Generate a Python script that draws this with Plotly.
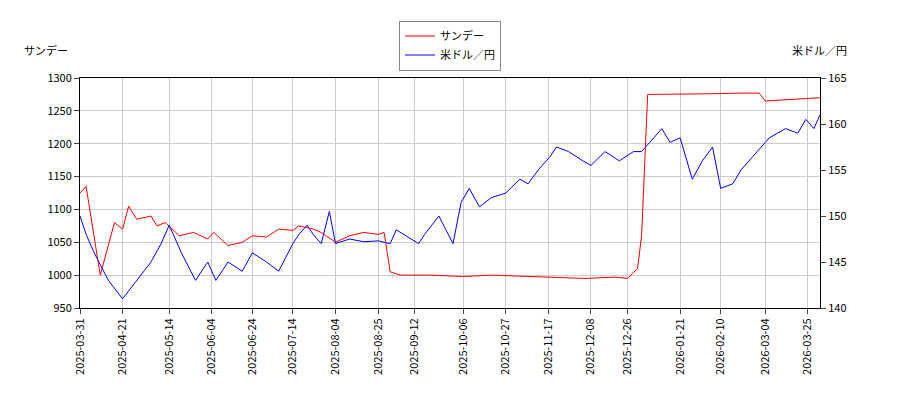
import plotly.graph_objects as go

red_dates = ["2025-03-31","2025-04-03","2025-04-10","2025-04-17","2025-04-21","2025-04-24","2025-04-28","2025-05-05","2025-05-08","2025-05-12","2025-05-19","2025-05-26","2025-06-02","2025-06-05","2025-06-12","2025-06-19","2025-06-24","2025-07-01","2025-07-07","2025-07-14","2025-07-17","2025-07-24","2025-07-28","2025-08-04","2025-08-11","2025-08-18","2025-08-25","2025-08-28","2025-08-31","2025-09-05","2025-09-20","2025-10-06","2025-10-20","2025-11-05","2025-11-20","2025-12-05","2025-12-20","2025-12-26","2025-12-31","2026-01-02","2026-01-05","2026-01-20","2026-02-05","2026-02-20","2026-03-01","2026-03-04","2026-03-15","2026-03-31"]
red_vals = [1125,1135,1000,1080,1070,1105,1085,1090,1075,1080,1060,1065,1055,1065,1045,1050,1060,1058,1070,1068,1075,1070,1065,1050,1060,1065,1062,1065,1005,1000,1000,998,1000,998,996,995,997,995,1010,1060,1275,1275,1276,1277,1277,1265,1267,1270]

blue_dates = ["2025-03-31","2025-04-03","2025-04-07","2025-04-14","2025-04-21","2025-04-28","2025-05-05","2025-05-10","2025-05-14","2025-05-20","2025-05-27","2025-06-02","2025-06-06","2025-06-12","2025-06-19","2025-06-24","2025-07-01","2025-07-07","2025-07-14","2025-07-17","2025-07-21","2025-07-24","2025-07-28","2025-08-01","2025-08-04","2025-08-11","2025-08-18","2025-08-25","2025-08-31","2025-09-03","2025-09-10","2025-09-14","2025-09-17","2025-09-24","2025-10-01","2025-10-05","2025-10-09","2025-10-14","2025-10-20","2025-10-27","2025-11-03","2025-11-07","2025-11-12","2025-11-18","2025-11-21","2025-11-27","2025-12-04","2025-12-08","2025-12-15","2025-12-22","2025-12-29","2026-01-02","2026-01-06","2026-01-12","2026-01-16","2026-01-21","2026-01-27","2026-02-01","2026-02-06","2026-02-10","2026-02-16","2026-02-20","2026-02-26","2026-03-02","2026-03-06","2026-03-14","2026-03-20","2026-03-24","2026-03-28","2026-03-31"]
blue_vals = [150,148,146,143,141,143,145,147,149,146,143,145,143,145,144,146,145,144,147,148,149,148,147,150.5,147,147.5,147.2,147.3,147,148.5,147.5,147,148,150,147,151.5,153,151,152,152.5,154,153.5,155,156.5,157.5,157,156,155.5,157,156,157,157,158,159.5,158,158.5,154,156,157.5,153,153.5,155,156.5,157.5,158.5,159.5,159,160.5,159.5,161]

tick_vals = ["2025-03-31","2025-04-21","2025-05-14","2025-06-04","2025-06-24","2025-07-14","2025-08-04","2025-08-25","2025-09-12","2025-10-06","2025-10-27","2025-11-17","2025-12-08","2025-12-26","2026-01-21","2026-02-10","2026-03-04","2026-03-25"]

fig = go.Figure()
fig.add_trace(go.Scatter(x=red_dates, y=red_vals, name="サンデー", mode="lines", line=dict(color="red", width=1)))
fig.add_trace(go.Scatter(x=blue_dates, y=blue_vals, name="米ドル／円", mode="lines", line=dict(color="blue", width=1), yaxis="y2"))
ax = dict(showline=True, linecolor="black", mirror=True, gridcolor="#cccccc", ticks="outside", zeroline=False)
fig.update_layout(
    width=900, height=400, plot_bgcolor="white", paper_bgcolor="white",
    margin=dict(l=72, r=88, t=60, b=100),
    font=dict(family="Noto Sans CJK JP", size=11, color="black"),
    xaxis=dict(**ax, tickvals=tick_vals, ticktext=tick_vals, tickangle=-90, range=["2025-03-31","2026-03-31"]),
    yaxis=dict(**ax, range=[950,1300], dtick=50),
    yaxis2=dict(overlaying="y", side="right", range=[140,165], dtick=5, ticks="outside", showgrid=False, zeroline=False),
    legend=dict(x=0.5, xanchor="center", y=1.25, yanchor="top", bordercolor="#888", borderwidth=1),
    annotations=[dict(text="サンデー", x=0, y=1.08, xref="paper", yref="paper", xanchor="right", yanchor="bottom", showarrow=False, xshift=-10),
                 dict(text="米ドル／円", x=1, y=1.08, xref="paper", yref="paper", xanchor="left", yanchor="bottom", showarrow=False, xshift=-30)],
)
fig.write_html("out.html")
